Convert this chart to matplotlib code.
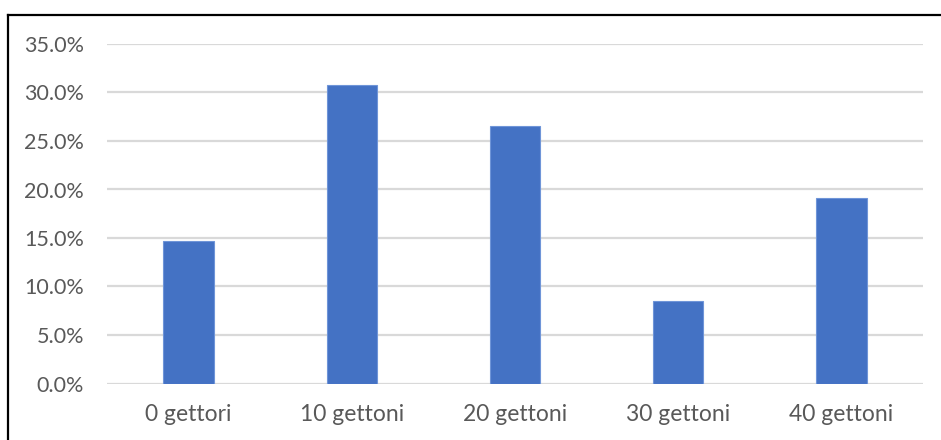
import matplotlib
matplotlib.use("Agg")
import matplotlib.pyplot as plt
from matplotlib.lines import Line2D
from matplotlib.ticker import PercentFormatter, MultipleLocator

categories = ["0 gettori", "10 gettoni", "20 gettoni", "30 gettoni", "40 gettoni"]
shares = [0.147, 0.3075, 0.2655, 0.0855, 0.1916]

plt.rcParams["font.family"] = ["Lato", "DejaVu Sans"]

W, H = 941, 440
fig = plt.figure(figsize=(W / 100, H / 100), dpi=100)
ax = fig.add_axes([107 / W, 1 - 383.5 / H, (923 - 107) / W, (383.5 - 44) / H])

x = range(len(categories))
ax.bar(x, shares, width=0.31, color="#4472C4", edgecolor="#6F95D8", linewidth=0.8, zorder=3)

ax.set_xlim(-0.5, len(categories) - 0.5)
ax.set_ylim(0, 0.35)
ax.yaxis.set_major_locator(MultipleLocator(0.05))
ax.yaxis.set_major_formatter(PercentFormatter(1.0, decimals=1))
ax.set_xticks(list(x))
ax.set_xticklabels(categories)

ax.grid(axis="y", color="#D9D9D9", linewidth=1.6, zorder=0)
for s in ax.spines.values():
    s.set_visible(False)
ax.tick_params(axis="both", length=0, labelcolor="#595959")
ax.tick_params(axis="y", pad=16.5, labelsize=15.5)
ax.tick_params(axis="x", pad=14.5, labelsize=16.5)

# outer chart frame
fig.add_artist(Line2D([7.5 / W, 7.5 / W], [0, 1 - 15.5 / H], transform=fig.transFigure,
                      color="black", linewidth=1.6))
fig.add_artist(Line2D([7.5 / W, 1], [1 - 15.5 / H, 1 - 15.5 / H], transform=fig.transFigure,
                      color="black", linewidth=1.6))

fig.savefig("out.png", dpi=100, facecolor="white")
